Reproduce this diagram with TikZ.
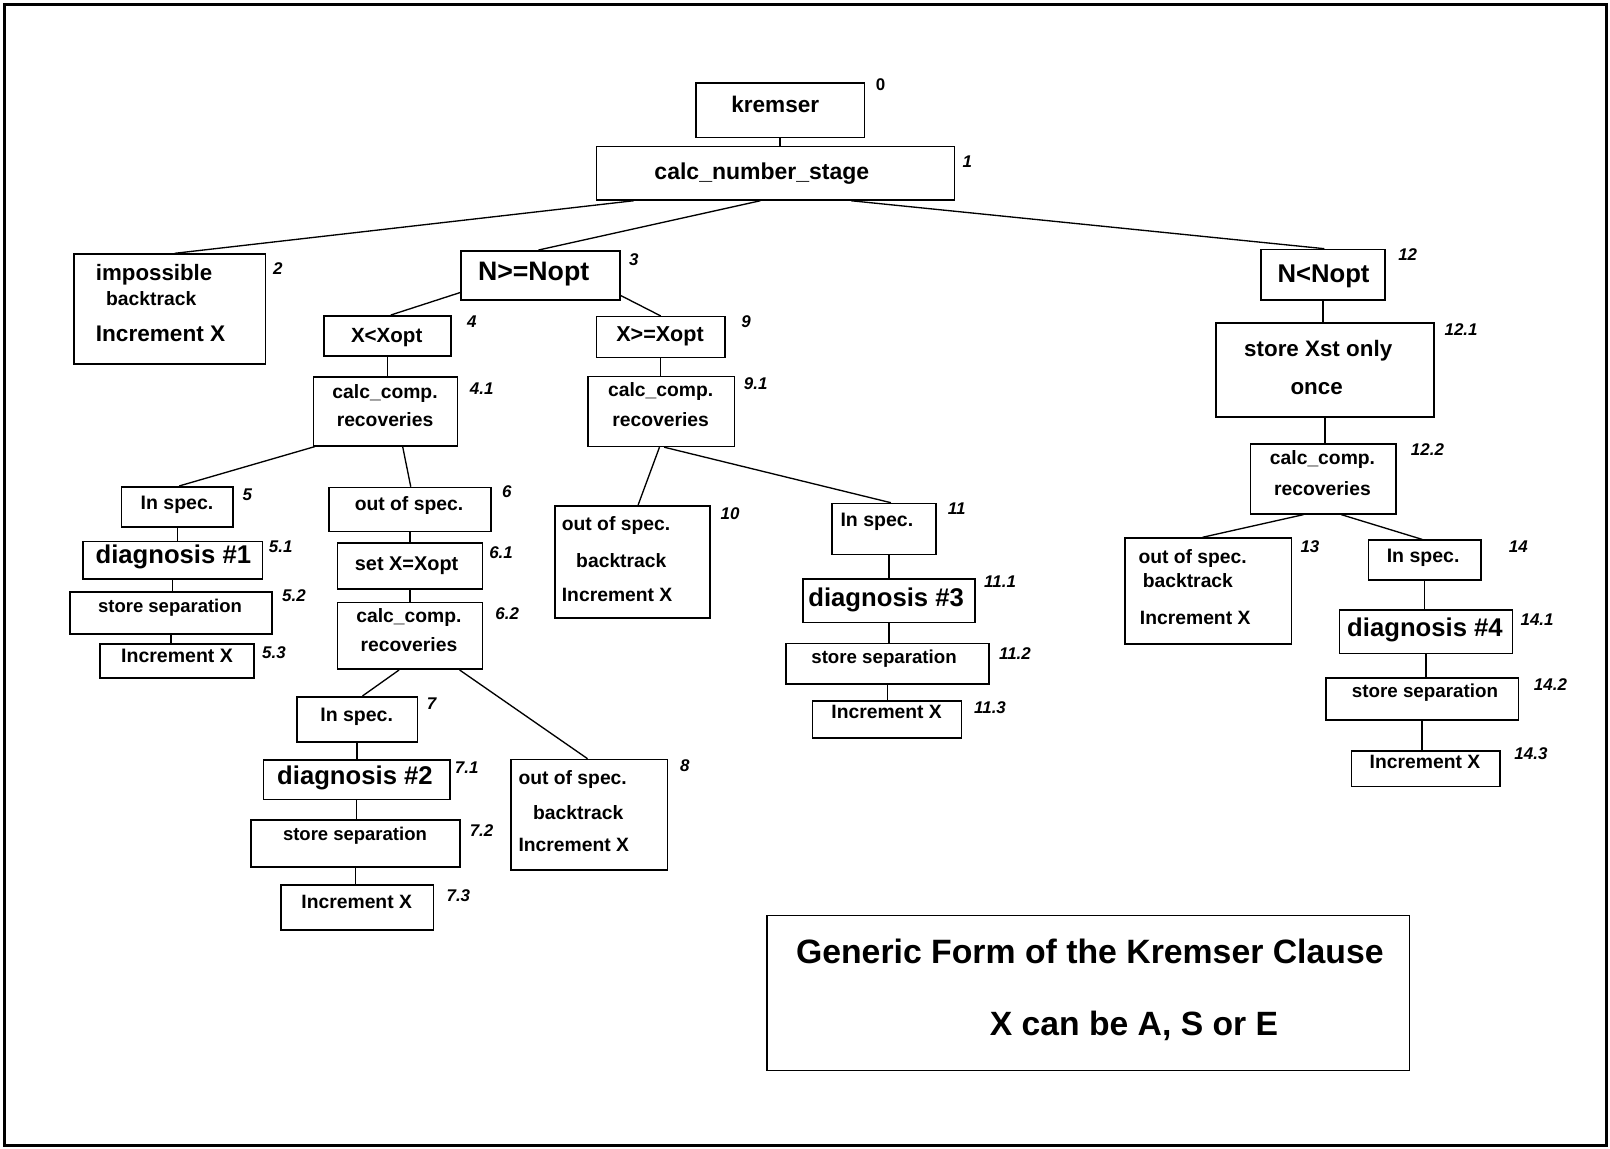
\documentclass[tikz,border=0pt]{standalone}
\usepackage{fontspec}
\setmainfont{Liberation Sans}
\usetikzlibrary{calc}

% box given by its top-left and bottom-right corners
\newcommand{\drawbox}[5]{%
  \node[box, minimum width=(#4-#2)*1pt, minimum height=(#5-#3)*1pt] (#1) at (#2,#3) {};}

\begin{document}
\begin{tikzpicture}[x=1pt,y=-1pt,
  box/.style={draw, line width=1.5pt, inner sep=0pt, anchor=north west},
  wire/.style={line width=1.3pt},
  txt/.style={inner sep=0pt, text height={0.72*#1pt}, text depth={0.2*#1pt},
              font=\bfseries\fontsize{#1}{#1}\selectfont},
  ltxt/.style={txt=#1, anchor=west},
  num/.style={inner sep=0pt, text height=12pt, text depth=0pt,
              font=\bfseries\itshape\fontsize{16.5}{16.5}\selectfont}]

\useasboundingbox (0,0) rectangle (1568,1119);
\draw[line width=3pt] (4,4) rectangle (1565,1116);

% ---------- boxes ----------
\drawbox{B0}{677}{80}{841}{133}
\drawbox{B1}{580}{142}{929}{194}
\drawbox{B2}{71.5}{246.7}{257.6}{353.8}
\drawbox{B3}{448.4}{243.5}{603}{291.2}
\drawbox{B12}{1227.3}{242.2}{1348.1}{291.6}
\drawbox{B4}{314.9}{306.8}{438.3}{345.7}
\drawbox{B9}{580.4}{307.7}{705.1}{347.4}
\drawbox{B41}{304.5}{366.2}{444.8}{433.4}
\drawbox{B91}{572}{365.9}{714.8}{434}
\drawbox{B121}{1183.5}{314}{1395.9}{405.2}
\drawbox{B122}{1217}{431.5}{1359}{499.7}
\drawbox{B5}{117.5}{473.3}{226.2}{512.3}
\drawbox{B6}{319.8}{474}{477.2}{517}
\drawbox{B51}{80.2}{526.6}{254.8}{563.2}
\drawbox{B61}{327.9}{528.2}{469.1}{573}
\drawbox{B52}{67.5}{575.6}{264}{616.8}
\drawbox{B62}{327.9}{586}{469.1}{651}
\drawbox{B53}{96.7}{626.5}{246.7}{659.6}
\drawbox{B10}{540}{491.8}{690.5}{601.2}
\drawbox{B11}{809.3}{489.6}{910.6}{539.5}
\drawbox{B111}{781.4}{563.3}{948.9}{605.7}
\drawbox{B112}{764.5}{625.9}{962.5}{665.5}
\drawbox{B113}{790.5}{681.7}{935.6}{718}
\drawbox{B13}{1094.7}{523.3}{1257}{626.5}
\drawbox{B14}{1332}{525.3}{1441.4}{563.9}
\drawbox{B141}{1304}{593.1}{1472.3}{635.6}
\drawbox{B142}{1290.4}{659.7}{1478}{700.6}
\drawbox{B143}{1315.4}{730.5}{1459.9}{765.2}
\drawbox{B7}{288.3}{677.8}{405.8}{721.7}
\drawbox{B71}{255.8}{739.5}{437.6}{778.1}
\drawbox{B72}{243.5}{797.6}{447}{843.4}
\drawbox{B73}{272.7}{861}{421.4}{905}
\drawbox{B8}{496.7}{738.9}{649.3}{846.3}
\drawbox{LEG}{746}{891}{1372}{1042}

% ---------- box texts ----------
\node[txt=22] (T0) at (755,104) {kremser};
\node[txt=22.4] (T1) at (742,169) {calc\_number\_stage};
\node[ltxt=21.7] (T2a) at (93.2,267.8) {impossible};
\node[ltxt=18.8] (T2b) at (103.2,292.2) {backtrack};
\node[ltxt=22] (T2c) at (93.2,327.2) {Increment X};
\node[txt=26] (T3) at (519.7,266.2) {N>=Nopt};
\node[txt=25] (T12) at (1289,268.6) {N<Nopt};
\node[txt=20] (T4) at (376.6,327.9) {X<Xopt};
\node[txt=21] (T9) at (642.8,327.2) {X>=Xopt};
\node[txt=18.8] (T41a) at (375,383) {calc\_comp.};
\node[txt=18.8] (T41b) at (375,410.7) {recoveries};
\node[txt=18.8] (T91a) at (643.4,381.4) {calc\_comp.};
\node[txt=18.8] (T91b) at (643.4,410.7) {recoveries};
\node[txt=21.8] (T121a) at (1283.8,342) {store Xst only};
\node[txt=21.8] (T121b) at (1282.3,378.8) {once};
\node[txt=18.8] (T122a) at (1288,447.4) {calc\_comp.};
\node[txt=18.8] (T122b) at (1288,477.7) {recoveries};
\node[txt=19] (T5) at (172.4,490.8) {In spec.};
\node[txt=18.8] (T6) at (398.3,491.8) {out of spec.};
\node[txt=25] (T51) at (168.8,542.1) {diagnosis \#1};
\node[txt=19.4] (T61) at (396,550.3) {set X=Xopt};
\node[txt=18] (T52) at (165.6,591.8) {store separation};
\node[txt=18.8] (T62a) at (398.3,601.2) {calc\_comp.};
\node[txt=18.8] (T62b) at (398.3,629.8) {recoveries};
\node[txt=19] (T53) at (172.4,640.2) {Increment X};
\node[ltxt=18.8] (T10a) at (547,511.3) {out of spec.};
\node[ltxt=18.8] (T10b) at (561,548) {backtrack};
\node[ltxt=18.8] (T10c) at (547,581.1) {Increment X};
\node[txt=19] (T11) at (854,508) {In spec.};
\node[txt=25] (T111) at (863,583.7) {diagnosis \#3};
\node[txt=18.2] (T112) at (861,641.2) {store separation};
\node[txt=18.8] (T113) at (863.5,694.7) {Increment X};
\node[ltxt=18.8] (T13a) at (1108.6,543.8) {out of spec.};
\node[ltxt=18.8] (T13b) at (1112.8,567.5) {backtrack};
\node[ltxt=18.8] (T13c) at (1110,603.2) {Increment X};
\node[txt=19] (T14) at (1386,542.8) {In spec.};
\node[txt=25] (T141) at (1387.8,613.6) {diagnosis \#4};
\node[txt=18.3] (T142) at (1387.8,674.6) {store separation};
\node[txt=18.8] (T143) at (1387.8,743.4) {Increment X};
\node[txt=19] (T7) at (347.4,697.3) {In spec.};
\node[txt=25] (T71) at (345.7,758) {diagnosis \#2};
\node[txt=18] (T72) at (345.7,814.2) {store separation};
\node[txt=18.8] (T73) at (347.4,879.8) {Increment X};
\node[ltxt=18.8] (T8a) at (504.8,759) {out of spec.};
\node[ltxt=18.8] (T8b) at (519,793.7) {backtrack};
\node[ltxt=18.8] (T8c) at (504.8,824.6) {Increment X};
\node[txt=32.9] (TL1) at (1061.4,930) {Generic Form of the Kremser Clause};
\node[txt=32.8] (TL2) at (1104.4,999.9) {X can be A, S or E};

% ---------- step numbers ----------
\node[num, font=\bfseries\fontsize{16.5}{16.5}\selectfont] (N0) at (857.7,81.8) {0};
\node[num] (N1) at (942,157.5) {1};
\node[num] (N2) at (270.6,261.3) {2};
\node[num] (N3) at (617.2,252.5) {3};
\node[num] (N4) at (459.4,313.3) {4};
\node[num] (N9) at (726.5,313.3) {9};
\node[num] (N41) at (469.1,378.2) {4.1};
\node[num] (N91) at (736,373.3) {9.1};
\node[num] (N12) at (1371,248) {12};
\node[num] (N121) at (1423,320.3) {12.1};
\node[num] (N122) at (1390.2,437.5) {12.2};
\node[num] (N5) at (240.9,481.1) {5};
\node[num] (N6) at (493.5,479) {6};
\node[num] (N51) at (273.4,532.4) {5.1};
\node[num] (N61) at (488,538) {6.1};
\node[num] (N52) at (286.3,580) {5.2};
\node[num] (N62) at (494,597) {6.2};
\node[num] (N53) at (266.8,635.6) {5.3};
\node[num] (N10) at (711,500) {10};
\node[num] (N11) at (931.7,495) {11};
\node[num] (N111) at (974,566.5) {11.1};
\node[num] (N112) at (988.5,636.3) {11.2};
\node[num] (N113) at (964.2,688.9) {11.3};
\node[num] (N13) at (1275.8,531.7) {13};
\node[num] (N14) at (1478.7,531.7) {14};
\node[num] (N141) at (1497,603) {14.1};
\node[num] (N142) at (1510,666) {14.2};
\node[num] (N143) at (1491,734) {14.3};
\node[num] (N7) at (420.4,685) {7};
\node[num] (N71) at (454.5,747.6) {7.1};
\node[num] (N72) at (469,809) {7.2};
\node[num] (N73) at (446.4,871.6) {7.3};
\node[num] (N8) at (667,745) {8};

% ---------- slanted connectors ----------
\draw[wire] ($(B1.south west)!0.106!(B1.south east)$) -- ($(B2.north west)!0.526!(B2.north east)$);
\draw[wire] ($(B1.south west)!0.458!(B1.south east)$) -- ($(B3.north west)!0.487!(B3.north east)$);
\draw[wire] ($(B1.south west)!0.710!(B1.south east)$) -- ($(B12.north west)!0.511!(B12.north east)$);
\draw[wire] ($(B3.south west)!0.16!(B3.north west)$) -- ($(B4.north west)!0.526!(B4.north east)$);
\draw[wire] ($(B3.south east)!0.10!(B3.north east)$) -- ($(B9.north west)!0.5!(B9.north east)$);
\draw[wire] ($(B41.south west)!0.016!(B41.south east)$) -- ($(B5.north west)!0.517!(B5.north east)$);
\draw[wire] ($(B41.south west)!0.618!(B41.south east)$) -- ($(B6.north west)!0.505!(B6.north east)$);
\draw[wire] ($(B62.south west)!0.426!(B62.south east)$) -- ($(B7.north west)!0.544!(B7.north east)$);
\draw[wire] ($(B62.south west)!0.839!(B62.south east)$) -- ($(B8.north west)!0.49!(B8.north east)$);
\draw[wire] ($(B91.south west)!0.487!(B91.south east)$) -- ($(B10.north west)!0.536!(B10.north east)$);
\draw[wire] ($(B91.south west)!0.518!(B91.south east)$) -- ($(B11.north west)!0.568!(B11.north east)$);
\draw[wire] ($(B122.south west)!0.366!(B122.south east)$) -- ($(B13.north west)!0.466!(B13.north east)$);
\draw[wire] ($(B122.south west)!0.622!(B122.south east)$) -- ($(B14.north west)!0.478!(B14.north east)$);

% ---------- vertical connectors ----------
\foreach \p/\c in {B0/B1, B4/B41, B9/B91, B5/B51, B51/B52, B52/B53, B6/B61, B61/B62,
                   B7/B71, B71/B72, B72/B73, B111/B112, B112/B113,
                   B12/B121, B121/B122, B14/B141, B141/B142, B142/B143}
  \draw[wire] (\p.south) -- (\p.south |- \c.north);
\draw[wire] (B111.north |- B11.south) -- (B111.north);

\end{tikzpicture}
\end{document}
